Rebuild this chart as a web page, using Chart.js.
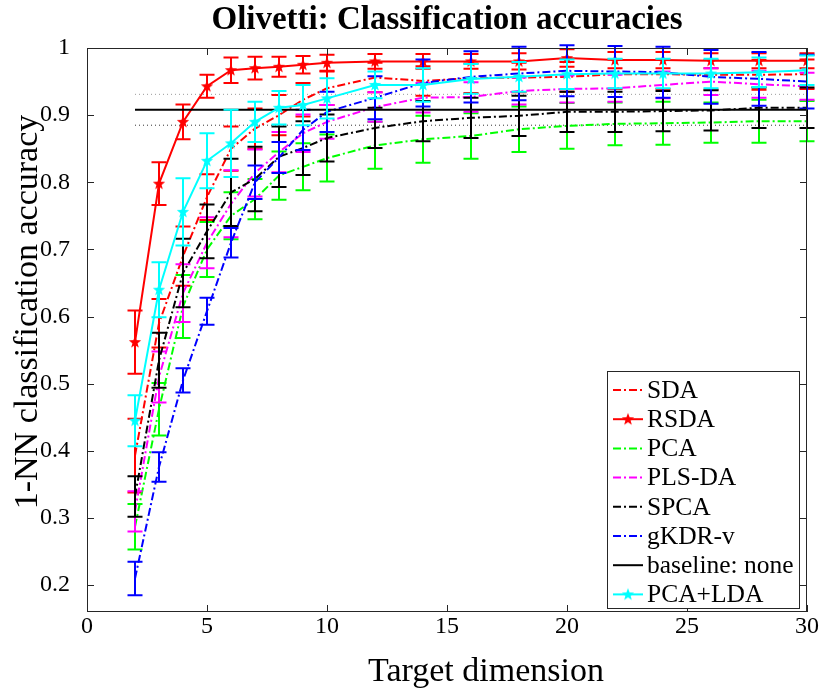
<!DOCTYPE html>
<html><head><meta charset="utf-8">
<script src="https://cdn.jsdelivr.net/npm/chart.js@4.4.0/dist/chart.umd.min.js"></script>
<style>html,body{margin:0;padding:0;background:#fff;}#wrap{width:825px;height:692px;}</style>
</head><body><div id="wrap"><canvas id="c" width="825" height="692"></canvas></div>
<script>
// ---- data ----
const dims = [2,3,4,5,6,7,8,9,10,12,14,16,18,20,22,24,26,28,30];
const sdaMean   = [0.393,0.590,0.690,0.778,0.850,0.880,0.900,0.923,0.940,0.956,0.951,0.955,0.956,0.957,0.961,0.961,0.960,0.960,0.961];
const sdaErr    = [0.055,0.036,0.044,0.034,0.033,0.030,0.030,0.025,0.025,0.022,0.022,0.022,0.022,0.022,0.022,0.022,0.022,0.022,0.022];
const rsdaMean  = [0.562,0.798,0.890,0.943,0.967,0.970,0.972,0.975,0.978,0.980,0.980,0.980,0.980,0.985,0.982,0.982,0.981,0.981,0.981];
const rsdaErr   = [0.047,0.032,0.026,0.017,0.019,0.017,0.015,0.013,0.012,0.011,0.011,0.011,0.012,0.013,0.012,0.012,0.011,0.011,0.011];
const pcaMean   = [0.287,0.462,0.615,0.700,0.750,0.775,0.810,0.823,0.836,0.855,0.864,0.869,0.879,0.884,0.887,0.888,0.889,0.891,0.891];
const pcaErr    = [0.034,0.039,0.047,0.041,0.035,0.030,0.036,0.035,0.035,0.035,0.035,0.034,0.034,0.034,0.032,0.032,0.030,0.032,0.030];
const plsMean   = [0.310,0.510,0.635,0.710,0.768,0.814,0.845,0.873,0.890,0.912,0.926,0.927,0.936,0.939,0.940,0.945,0.950,0.946,0.943];
const plsErr    = [0.030,0.038,0.043,0.038,0.050,0.035,0.030,0.028,0.025,0.022,0.022,0.022,0.020,0.020,0.020,0.020,0.020,0.020,0.020];
const spcaMean  = [0.332,0.535,0.665,0.727,0.785,0.805,0.838,0.851,0.866,0.881,0.891,0.896,0.899,0.905,0.905,0.906,0.907,0.911,0.911];
const spcaErr   = [0.030,0.041,0.051,0.040,0.050,0.048,0.045,0.040,0.035,0.030,0.030,0.030,0.030,0.030,0.030,0.030,0.030,0.030,0.030];
const gkdrMean  = [0.210,0.376,0.505,0.608,0.710,0.800,0.837,0.878,0.905,0.926,0.948,0.957,0.962,0.966,0.965,0.964,0.957,0.954,0.950];
const gkdrErr   = [0.025,0.022,0.018,0.020,0.022,0.025,0.023,0.030,0.030,0.032,0.035,0.038,0.040,0.038,0.038,0.038,0.040,0.040,0.040];
const pldaMean  = [0.445,0.640,0.756,0.832,0.858,0.890,0.911,0.915,0.925,0.945,0.945,0.954,0.957,0.961,0.962,0.962,0.962,0.964,0.967];
const pldaErr   = [0.038,0.041,0.050,0.041,0.050,0.030,0.025,0.030,0.030,0.020,0.025,0.022,0.022,0.022,0.022,0.022,0.022,0.022,0.022];
const baselineMean = 0.908;
const baselineStd  = 0.023;
const xTickValues = [0,5,10,15,20,25,30];
const yTickValues = [0.2,0.3,0.4,0.5,0.6,0.7,0.8,0.9,1];
const seriesNames = ['SDA','RSDA','PCA','PLS-DA','SPCA','gKDR-v','baseline: none','PCA+LDA'];
const xTitle = 'Target dimension';
const yTitle = '1-NN classification accuracy';

// ---- helpers ----
const SERIF = "'Liberation Serif','Times New Roman',serif";
function star(color){
  const c = document.createElement('canvas'); c.width = 14; c.height = 14;
  const g = c.getContext('2d'); g.fillStyle = color; g.beginPath();
  for (let i=0;i<10;i++){
    const r = i%2===0 ? 6.5 : 2.7; const a = -Math.PI/2 + i*Math.PI/5;
    const px = 7 + r*Math.cos(a), py = 7.3 + r*Math.sin(a);
    i===0 ? g.moveTo(px,py) : g.lineTo(px,py);
  }
  g.closePath(); g.fill(); return c;
}
const pts = (m) => dims.map((d,i)=>({x:d,y:m[i]}));
const DASHDOT = [8,3,2,3];
function ds(label, color, mean, err, dash, marker){
  return {label, data: pts(mean), errs: err, borderColor: color, backgroundColor: color,
    borderWidth: 2, borderDash: dash, pointStyle: marker ? star(color) : false,
    pointRadius: marker ? 6 : 0, tension: 0, fill: false};
}
const datasets = [
  ds(seriesNames[0], '#ff0000', sdaMean, sdaErr, DASHDOT, false),
  ds(seriesNames[1], '#ff0000', rsdaMean, rsdaErr, [], true),
  ds(seriesNames[2], '#00ff00', pcaMean, pcaErr, DASHDOT, false),
  ds(seriesNames[3], '#ff00ff', plsMean, plsErr, DASHDOT, false),
  ds(seriesNames[4], '#000000', spcaMean, spcaErr, DASHDOT, false),
  ds(seriesNames[5], '#0000ff', gkdrMean, gkdrErr, DASHDOT, false),
  {label: seriesNames[6], data: pts(dims.map(()=>baselineMean)), borderColor:'#000', borderWidth:2, pointRadius:0, borderDash:[]},
  ds(seriesNames[7], '#00ffff', pldaMean, pldaErr, [], true),
  {label:'std+', noLegend:true, data: pts(dims.map(()=>baselineMean+baselineStd)), borderColor:'#9a9a9a', borderWidth:1, pointRadius:0, borderDash:[1,3]},
  {label:'std-', noLegend:true, data: pts(dims.map(()=>baselineMean-baselineStd)), borderColor:'#333', borderWidth:1, pointRadius:0, borderDash:[1,3]}
];
datasets.forEach((d,i)=>{ d.order = 20 - i; });
datasets[8].order = 30; datasets[9].order = 30;

const errorBars = {
  id:'errorBars',
  afterDatasetDraw(chart, args){
    const d = chart.data.datasets[args.index];
    if (!d.errs) return;
    const x = chart.scales.x, y = chart.scales.y, g = chart.ctx;
    g.save(); g.strokeStyle = d.borderColor; g.lineWidth = 2; g.setLineDash([]);
    g.beginPath();
    d.data.forEach((p,i)=>{
      const px = x.getPixelForValue(p.x);
      const y1 = y.getPixelForValue(p.y + d.errs[i]), y2 = y.getPixelForValue(p.y - d.errs[i]);
      g.moveTo(px,y1); g.lineTo(px,y2);
      g.moveTo(px-7.5,y1); g.lineTo(px+7.5,y1);
      g.moveTo(px-7.5,y2); g.lineTo(px+7.5,y2);
    });
    g.stroke(); g.restore();
  }
};
const frame = {
  id:'frame',
  afterDraw(chart){
    const a = chart.chartArea, g = chart.ctx, x = chart.scales.x, y = chart.scales.y;
    g.save(); g.strokeStyle = '#262626'; g.lineWidth = 1; g.setLineDash([]);
    g.strokeRect(a.left+0.5, a.top+0.5, a.right-a.left-1, a.bottom-a.top-1);
    g.beginPath();
    xTickValues.forEach(v=>{ const px = Math.round(x.getPixelForValue(v))+0.5;
      g.moveTo(px,a.bottom); g.lineTo(px,a.bottom-7); g.moveTo(px,a.top); g.lineTo(px,a.top+7); });
    yTickValues.forEach(v=>{ const py = Math.round(y.getPixelForValue(v))+0.5;
      g.moveTo(a.left,py); g.lineTo(a.left+7,py); g.moveTo(a.right,py); g.lineTo(a.right-7,py); });
    g.stroke();
    // axis titles
    g.fillStyle = '#000'; g.font = "34px " + SERIF; g.textAlign = 'center'; g.textBaseline = 'middle';
    g.fillText(xTitle, 486, 672);
    g.translate(28, 312); g.rotate(-Math.PI/2); g.fillText(yTitle, 0, 0);
    g.restore();
  }
};
const legendBox = {
  id:'legendBox',
  afterDraw(chart){
    const g = chart.ctx; const L = 607, T = 371, R = 799, B = 608;
    g.save(); g.fillStyle = '#fff'; g.fillRect(L,T,R-L,B-T);
    g.strokeStyle = '#262626'; g.lineWidth = 1; g.strokeRect(L+0.5,T+0.5,R-L,B-T);
    g.font = "25.5px " + SERIF; g.fillStyle = '#000'; g.textBaseline = 'middle'; g.textAlign = 'left';
    const items = chart.data.datasets.filter(d=>!d.noLegend);
    items.forEach((d,i)=>{
      const cy = 390 + i*29.2;
      g.strokeStyle = d.borderColor; g.lineWidth = 2; g.setLineDash(d.borderDash||[]);
      g.beginPath(); g.moveTo(613,cy); g.lineTo(643,cy); g.stroke(); g.setLineDash([]);
      if (d.pointStyle && typeof d.pointStyle === 'object') g.drawImage(d.pointStyle, 628-7, cy-7);
      g.fillText(d.label, 647, cy+1);
    });
    g.restore();
  }
};

new Chart(document.getElementById('c'), {
  type:'line',
  data:{datasets},
  options:{
    responsive:false, animation:false, devicePixelRatio:1,
    layout:{padding:{left:0,right:18,top:0,bottom:0}},
    plugins:{
      legend:{display:false}, tooltip:{enabled:false},
      title:{display:true, fullSize:false, text:'Olivetti: Classification accuracies', color:'#000',
        font:{family:SERIF, size:33, weight:'bold', lineHeight:1.2}, padding:{top:1,bottom:7.4}}
    },
    scales:{
      x:{type:'linear', min:0, max:30,
        afterBuildTicks:(s)=>{ s.ticks = xTickValues.map(v=>({value:v})); },
        afterFit:(s)=>{ s.height = 80; },
        grid:{display:false}, border:{display:false},
        ticks:{color:'#000', font:{family:SERIF, size:24}, padding:-8, maxRotation:0},
        title:{display:false, text:xTitle}},
      y:{type:'linear', min:0.16, max:1,
        afterBuildTicks:(s)=>{ s.ticks = yTickValues.map(v=>({value:v})); },
        afterFit:(s)=>{ s.width = 87; },
        grid:{display:false}, border:{display:false},
        ticks:{color:'#000', font:{family:SERIF, size:24}, padding:9, callback:(v)=>String(Math.round(v*10)/10)},
        title:{display:false, text:yTitle}}
    }
  },
  plugins:[errorBars, frame, legendBox]
});
</script></body></html>
